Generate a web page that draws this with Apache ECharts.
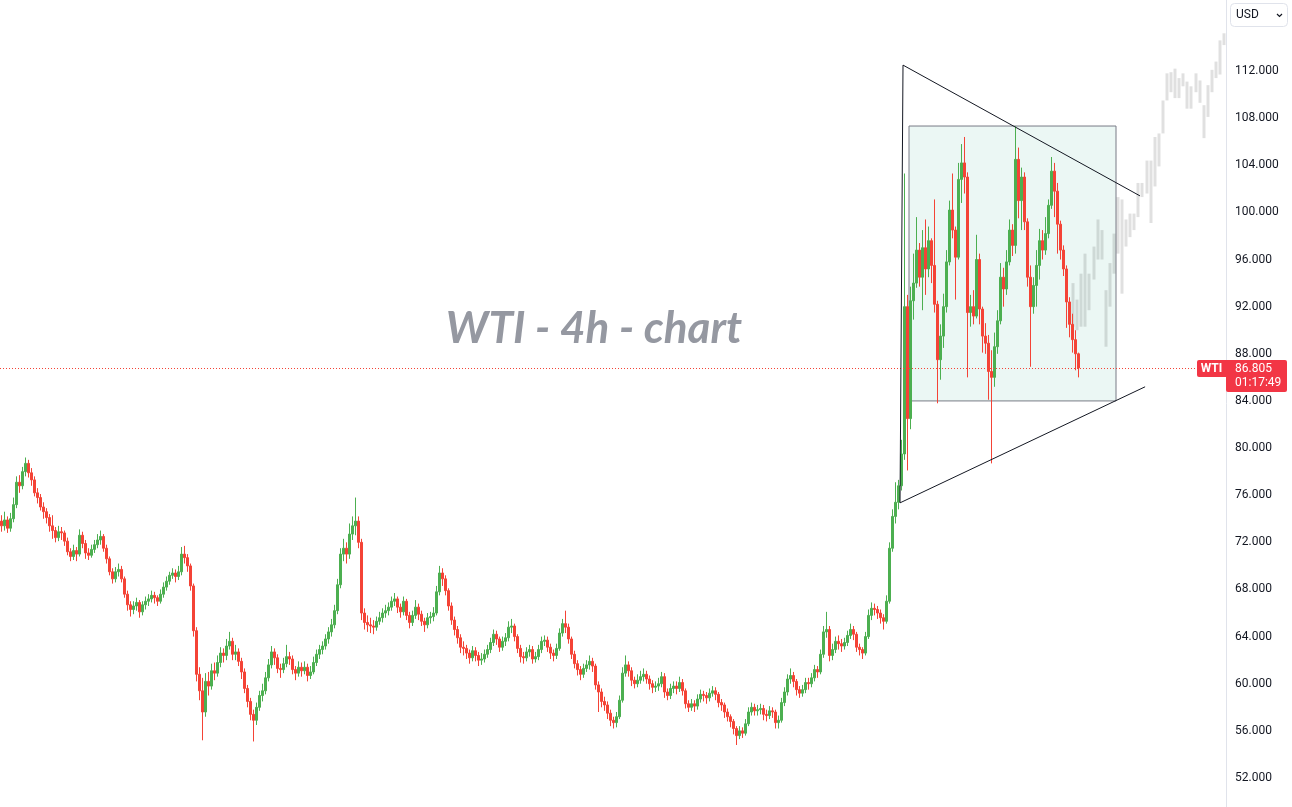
<!DOCTYPE html>
<html><head><meta charset="utf-8">
<script src="https://cdn.jsdelivr.net/npm/echarts@6/dist/echarts.min.js"></script>
<style>html,body{margin:0;padding:0;background:#fff}#c{width:1292px;height:807px}</style>
</head><body><div id="c"></div>
<script>
// each candle: [open, close, low, high] — WTI 4h
const ohlc = [
[73.8,73.4,72.9,74.3],[73.4,73.9,73.0,74.6],[73.9,73.2,72.8,74.2],[73.2,74.0,72.9,74.5],[74.0,75.2,73.7,75.8],
[75.2,77.1,74.9,77.6],[77.1,76.8,76.2,77.7],[76.8,78.0,76.5,78.4],[78.0,78.7,77.6,79.2],[78.7,77.9,77.5,79.0],
[77.9,77.3,76.8,78.3],[77.3,76.2,75.9,77.6],[76.2,75.8,75.3,76.6],[75.8,75.0,74.7,76.1],[75.0,74.6,74.0,75.4],
[74.6,74.1,73.6,74.9],[74.1,73.4,72.9,74.4],[73.4,73.0,72.3,74.3],[73.0,72.4,72.0,73.3],[72.4,72.9,72.1,73.4],
[72.9,72.8,72.2,73.3],[72.8,72.1,71.7,73.0],[72.1,71.2,70.9,72.4],[71.2,70.8,70.4,71.5],[70.8,71.3,70.5,71.8],
[71.3,71.0,70.4,71.6],[71.0,72.6,70.8,73.1],[72.6,71.9,71.5,72.9],[71.9,71.1,70.6,72.2],[71.1,70.9,70.5,71.5],
[70.9,71.4,70.7,71.8],[71.4,71.8,71.1,72.2],[71.8,72.2,71.5,72.7],[72.2,72.5,71.8,73.0],[72.5,71.5,71.2,72.7],
[71.5,70.6,70.2,71.8],[70.6,69.5,69.2,70.8],[69.5,68.9,68.5,69.8],[68.9,69.5,68.6,69.9],[69.5,69.7,69.1,70.2],
[69.7,68.9,68.6,70.0],[68.9,67.6,67.3,69.1],[67.6,66.7,66.2,67.9],[66.7,66.3,65.7,67.0],[66.3,66.6,65.9,67.0],
[66.6,66.9,66.2,67.3],[66.9,66.1,65.6,67.1],[66.1,66.7,65.8,67.0],[66.7,67.0,66.3,67.4],[67.0,67.2,66.6,67.6],
[67.2,67.5,66.9,67.9],[67.5,67.3,66.8,67.8],[67.3,67.0,66.6,67.5],[67.0,67.6,66.8,68.0],[67.6,68.2,67.3,68.6],
[68.2,68.7,67.9,69.1],[68.7,69.2,68.4,69.5],[69.2,69.4,68.9,69.8],[69.4,69.1,68.6,69.7],[69.1,69.5,68.8,70.0],
[69.5,71.0,69.2,71.6],[71.0,70.7,70.2,71.7],[70.7,70.0,69.5,71.0],[70.0,68.3,67.9,70.2],[68.3,64.5,64.0,68.5],
[64.5,60.8,60.2,64.8],[60.8,59.4,58.6,61.4],[59.4,57.6,55.2,60.5],[57.6,60.2,57.2,60.9],[60.2,59.8,59.0,61.0],
[59.8,61.1,59.5,61.7],[61.1,60.9,60.3,61.8],[60.9,61.8,60.6,62.4],[61.8,62.6,61.4,63.1],[62.6,62.4,61.8,63.0],
[62.4,63.2,62.0,63.8],[63.2,63.6,62.9,64.4],[63.6,62.5,62.0,63.9],[62.5,62.7,62.0,63.3],[62.7,61.9,61.5,63.0],
[61.9,61.0,60.4,62.2],[61.0,59.6,59.2,61.3],[59.6,58.5,58.0,59.9],[58.5,57.4,56.9,58.8],[57.4,56.9,55.1,57.8],
[56.9,58.0,56.5,58.4],[58.0,59.0,57.7,59.4],[59.0,59.4,58.5,60.0],[59.4,60.5,59.1,61.0],[60.5,61.6,60.2,62.1],
[61.6,62.7,61.3,63.2],[62.7,62.2,61.6,63.0],[62.2,61.3,60.9,62.5],[61.3,61.2,60.5,61.7],[61.2,61.7,60.9,62.2],
[61.7,62.3,61.4,63.3],[62.3,62.1,61.6,62.7],[62.1,61.2,60.8,62.4],[61.2,60.9,60.3,61.5],[60.9,61.4,60.6,61.9],
[61.4,61.1,60.6,61.8],[61.1,61.4,60.8,61.9],[61.4,60.7,60.2,61.7],[60.7,61.0,60.4,61.5],[61.0,61.8,60.8,62.3],
[61.8,62.5,61.5,62.9],[62.5,62.9,62.1,63.3],[62.9,63.2,62.5,63.6],[63.2,63.8,62.9,64.2],[63.8,64.4,63.4,64.8],
[64.4,65.0,64.0,65.5],[65.0,66.2,64.7,66.7],[66.2,68.4,65.9,68.9],[68.4,71.0,68.1,71.5],[71.0,71.5,70.4,72.3],
[71.5,71.0,70.2,72.0],[71.0,72.7,70.6,73.6],[72.7,73.4,72.2,74.2],[73.4,73.8,72.6,75.8],[73.8,72.0,71.5,74.2],
[72.0,66.0,65.4,72.3],[66.0,65.2,64.6,66.4],[65.2,65.0,64.4,65.8],[65.0,64.9,64.3,65.6],[64.9,64.8,64.2,65.4],
[64.8,65.3,64.5,65.7],[65.3,65.6,65.0,66.1],[65.6,66.0,65.2,66.4],[66.0,66.2,65.6,66.7],[66.2,66.5,65.8,66.9],
[66.5,67.0,66.2,67.4],[67.0,67.2,66.6,67.7],[67.2,66.5,66.0,67.4],[66.5,66.1,65.6,66.8],[66.1,67.0,65.8,67.4],
[67.0,65.8,65.4,67.2],[65.8,65.2,64.7,66.1],[65.2,65.8,64.9,66.2],[65.8,66.5,65.5,67.1],[66.5,65.9,65.4,66.8],
[65.9,65.3,64.9,66.2],[65.3,65.0,64.4,65.6],[65.0,65.6,64.7,66.0],[65.6,65.7,65.1,66.1],[65.7,66.0,65.3,66.5],
[66.0,67.8,65.8,68.3],[67.8,69.4,67.5,70.0],[69.4,68.9,68.3,69.8],[68.9,67.9,67.5,69.2],[67.9,66.6,66.2,68.1],
[66.6,65.4,65.0,66.9],[65.4,64.6,64.1,65.7],[64.6,63.9,63.4,64.9],[63.9,63.1,62.6,64.2],[63.1,63.0,62.4,63.6],
[63.0,62.6,62.1,63.3],[62.6,62.2,61.7,62.9],[62.2,62.8,61.9,63.2],[62.8,62.4,61.9,63.1],[62.4,62.0,61.5,62.7],
[62.0,62.1,61.6,62.6],[62.1,62.5,61.8,62.9],[62.5,62.9,62.2,63.3],[62.9,63.5,62.6,63.9],[63.5,64.2,63.2,64.6],
[64.2,63.8,63.3,64.5],[63.8,63.1,62.7,64.0],[63.1,63.6,62.8,64.0],[63.6,63.9,63.2,64.3],[63.9,64.8,63.6,65.3],
[64.8,64.9,64.3,65.5],[64.9,64.0,63.6,65.1],[64.0,63.0,62.6,64.2],[63.0,62.3,61.8,63.3],[62.3,62.2,61.7,62.7],
[62.2,62.7,61.9,63.1],[62.7,62.9,62.3,63.3],[62.9,62.1,61.7,63.2],[62.1,62.3,61.8,62.7],[62.3,62.9,62.0,63.3],
[62.9,63.6,62.6,64.0],[63.6,63.7,63.2,64.1],[63.7,63.1,62.7,64.0],[63.1,62.6,62.1,63.4],[62.6,62.4,61.9,62.9],
[62.4,63.0,62.1,63.4],[63.0,64.3,62.8,64.7],[64.3,65.1,64.0,65.5],[65.1,64.8,64.3,66.2],[64.8,63.8,63.4,65.1],
[63.8,62.5,62.1,64.0],[62.5,61.7,61.3,62.8],[61.7,61.2,60.7,62.0],[61.2,60.8,60.3,61.5],[60.8,61.3,60.5,61.7],
[61.3,61.6,61.0,62.0],[61.6,61.9,61.2,62.4],[61.9,61.5,61.0,62.2],[61.5,59.9,59.5,61.7],[59.9,59.3,57.6,60.2],
[59.3,58.5,58.0,59.6],[58.5,58.2,57.7,58.9],[58.2,57.5,57.0,58.5],[57.5,56.9,56.4,57.8],[56.9,56.7,56.2,57.2],
[56.7,57.2,56.3,57.6],[57.2,58.6,57.0,59.0],[58.6,60.9,58.4,61.4],[60.9,61.6,60.6,62.4],[61.6,61.1,60.6,61.9],
[61.1,60.3,59.8,61.4],[60.3,60.0,59.6,60.6],[60.0,60.3,59.7,60.8],[60.3,60.6,60.0,61.1],[60.6,60.8,60.2,61.3],
[60.8,60.4,60.0,61.1],[60.4,60.0,59.5,60.7],[60.0,59.7,59.2,60.3],[59.7,59.8,59.3,60.2],[59.8,60.0,59.4,60.5],
[60.0,60.6,59.7,61.0],[60.6,59.3,58.8,60.9],[59.3,59.0,58.6,59.6],[59.0,59.6,58.7,60.0],[59.6,59.8,59.2,60.2],
[59.8,59.6,59.1,60.2],[59.6,60.1,59.3,60.6],[60.1,59.4,59.0,60.4],[59.4,58.3,57.9,59.6],[58.3,58.0,57.6,58.6],
[58.0,58.3,57.7,58.7],[58.3,58.1,57.6,58.6],[58.1,58.7,57.8,59.1],[58.7,59.1,58.4,59.5],[59.1,59.0,58.5,59.4],
[59.0,58.8,58.3,59.3],[58.8,59.2,58.5,59.6],[59.2,59.4,58.9,59.8],[59.4,59.1,58.6,59.7],[59.1,58.4,58.0,59.3],
[58.4,58.2,57.7,58.7],[58.2,57.6,57.1,58.4],[57.6,57.2,56.8,57.9],[57.2,56.8,56.3,57.4],[56.8,56.2,55.7,57.0],
[56.2,55.6,54.8,56.4],[55.6,56.0,55.3,56.4],[56.0,55.8,55.4,56.3],[55.8,56.6,55.6,57.0],[56.6,57.6,56.4,58.0],
[57.6,58.0,57.3,58.4],[58.0,57.7,57.3,58.3],[57.7,57.8,57.3,58.2],[57.8,57.9,57.4,58.3],[57.9,57.4,56.9,58.2],
[57.4,57.3,56.8,57.8],[57.3,57.7,57.0,58.1],[57.7,57.6,57.1,58.0],[57.6,56.7,56.2,57.8],[56.7,56.9,56.2,57.3],
[56.9,58.4,56.7,58.8],[58.4,59.3,58.1,59.7],[59.3,60.4,59.0,60.8],[60.4,60.7,60.0,61.3],[60.7,60.2,59.7,61.0],
[60.2,59.5,59.0,60.4],[59.5,59.2,58.8,59.8],[59.2,59.5,58.9,59.9],[59.5,60.1,59.2,60.5],[60.1,60.0,59.5,60.5],
[60.0,60.5,59.7,60.9],[60.5,61.2,60.2,61.6],[61.2,61.0,60.5,61.5],[61.0,62.5,60.8,62.9],[62.5,64.4,62.2,64.9],
[64.4,64.6,63.9,66.1],[64.6,62.4,61.9,64.9],[62.4,62.9,62.0,63.4],[62.9,63.6,62.6,64.0],[63.6,63.4,62.9,64.1],
[63.4,63.2,62.7,63.8],[63.2,63.5,62.9,63.9],[63.5,64.1,63.2,64.5],[64.1,64.6,63.8,65.1],[64.6,64.2,63.7,64.9],
[64.2,63.1,62.7,64.4],[63.1,62.9,62.4,63.4],[62.9,62.6,62.1,63.1],[62.6,64.0,62.4,64.4],[64.0,65.8,63.8,66.3],
[65.8,66.4,65.4,66.9],[66.4,66.3,65.8,66.8],[66.3,66.0,65.5,66.6],[66.0,65.6,65.1,66.3],[65.6,65.3,64.6,65.9],
[65.3,67.0,65.1,67.5],[67.0,71.5,66.8,72.0],[71.5,74.2,71.2,74.8],[74.2,75.4,73.6,77.1],[75.4,76.8,74.8,77.3],
[76.8,79.5,76.4,80.7],[79.5,92.0,79.0,103.3],[92.0,82.5,78.1,93.0],[82.5,92.5,81.6,93.7],[92.5,94.0,90.9,96.5],
[94.0,96.8,93.6,99.6],[96.8,94.5,93.7,97.4],[94.5,97.0,91.7,98.5],[97.0,95.2,93.0,99.4],[95.2,97.6,94.5,98.8],
[97.6,95.5,94.0,97.8],[95.5,92.2,91.5,101.1],[92.2,87.5,83.8,92.5],[87.5,89.5,85.8,90.5],[89.5,92.0,88.5,93.1],
[92.0,95.8,91.5,96.8],[95.8,100.2,95.5,101.0],[100.2,98.5,97.8,103.3],[98.5,96.2,92.6,98.8],[96.2,102.8,96.0,104.2],
[102.8,104.2,100.8,105.8],[104.2,103.0,101.6,106.4],[103.0,91.5,86.0,103.4],[91.5,92.0,90.3,93.0],[92.0,91.2,90.5,93.4],
[91.2,96.0,91.0,98.1],[96.0,91.8,90.5,96.5],[91.8,89.5,88.1,92.0],[89.5,88.9,88.0,90.6],[88.9,86.5,84.1,89.6],
[86.5,86.0,78.7,88.3],[86.0,88.6,85.2,89.8],[88.6,90.8,88.0,91.7],[90.8,94.5,90.5,95.7],[94.5,93.5,92.0,95.3],
[93.5,95.8,93.0,96.8],[95.8,98.5,95.5,99.4],[98.5,97.2,96.3,99.0],[97.2,104.5,96.5,107.3],[104.5,101.0,99.5,105.5],
[101.0,103.0,98.5,103.8],[103.0,99.2,98.5,103.4],[99.2,94.5,93.7,99.5],[94.5,92.0,86.9,95.5],[92.0,93.8,91.4,94.5],
[93.8,95.5,92.0,96.8],[95.5,97.6,94.3,98.6],[97.6,96.8,96.0,98.5],[96.8,98.2,96.4,99.6],[98.2,100.6,97.8,101.1],
[100.6,103.5,100.3,104.7],[103.5,101.8,99.6,104.2],[101.8,99.0,96.5,102.5],[99.0,96.8,96.0,99.3],[96.8,95.2,94.6,97.2],
[95.2,92.4,90.2,95.5],[92.4,90.5,89.4,92.8],[90.5,89.2,88.1,91.4],[89.2,88.0,86.6,90.0],[88.0,86.805,86.0,88.1]
];
// projected (ghost) bars: low / high
const ghostLow  = [90.3,90.0,90.3,90.3,91.7,94.3,96.0,96.0,88.6,92.0,94.8,96.5,93.1,97.1,97.9,98.5,99.6,101.3,101.6,99.1,
                   102.2,103.9,106.7,109.5,110.2,109.7,109.7,110.7,108.8,108.8,110.2,109.3,106.3,108.1,110.2,111.4,111.7,114.2];
const ghostHigh = [94.0,92.6,94.8,96.5,94.8,97.1,99.4,98.5,93.4,95.7,98.2,101.3,101.1,99.4,99.9,99.9,102.5,102.5,104.4,104.4,
                   106.4,106.7,109.5,111.8,111.9,112.2,111.4,111.8,111.1,110.7,111.8,111.2,109.1,110.8,112.1,112.8,114.6,115.2];
const lastPrice = 86.805;
const countdown = '01:17:49';
const symbol = 'WTI';
const titleText = 'WTI - 4h - chart';
const yTicks = [52,56,60,64,68,72,76,80,84,88,92,96,100,104,108,112];
// drawings in (bar index, price)
const triUpper = [[300.5,112.5],[379.5,101.4]];
const triLower = [[299.5,75.35],[381.2,85.2]];
const triSide  = [[300.5,112.5],[299.5,75.35]];
const rangeBox = [[302.5,107.33],[371.5,84.0]];
const ghostStart = 357.2, ghostStep = 1.36;

const chart = echarts.init(document.getElementById('c'), null, {renderer:'canvas'});
const candleData = ohlc.map((r,i)=>[i, r[0], r[1], r[2], r[3]]);
const ghostData = ghostLow.map((lo,j)=>[ghostStart + j*ghostStep, lo, ghostHigh[j], lo, ghostHigh[j]]);
const lineStyle = {color:'#131722', width:1};
const lineSeries = (d)=>({type:'line', data:d, symbol:'none', lineStyle, z:5, silent:true, animation:false});

chart.setOption({
  animation:false,
  backgroundColor:'#ffffff',
  grid:{left:0, right:66, top:0, bottom:0},
  xAxis:{type:'value', min:-0.5, max:-0.5 + 1226/3, show:false},
  yAxis:{type:'value', position:'right', min:49.539, max:118.025,
    axisLine:{show:true, onZero:false, lineStyle:{color:'#e0e3eb', width:1}},
    axisTick:{show:false}, splitLine:{show:false},
    axisLabel:{margin:9, color:'#131722', fontSize:12, fontFamily:'Roboto', customValues:yTicks,
      formatter:(v)=> v.toFixed(3)}
  },
  series:[
    {type:'candlestick', name:'ghost', data:ghostData, encode:{x:0, y:[1,2,3,4]}, barWidth:3.5, z:1,
     itemStyle:{color:'rgba(0,0,0,0.12)', color0:'rgba(0,0,0,0.12)', borderColor:'rgba(0,0,0,0.0)', borderColor0:'rgba(0,0,0,0.0)', borderWidth:0},
     markArea:{silent:true, itemStyle:{color:'rgba(0,150,110,0.08)', borderColor:'#787b86', borderWidth:1},
       data:[[{coord:rangeBox[0]},{coord:rangeBox[1]}]]}
    },
    {type:'candlestick', name:'WTI', data:candleData, encode:{x:0, y:[1,2,3,4]}, barWidth:2, z:3,
     itemStyle:{color:'#4caf50', color0:'#f44336', borderColor:'#4caf50', borderColor0:'#f44336', borderWidth:1},
     markLine:{silent:true, symbol:'none', label:{show:false},
       lineStyle:{color:'#f44336', type:[1,2], width:1}, data:[{yAxis:lastPrice}]}
    },
    lineSeries(triUpper), lineSeries(triLower), lineSeries(triSide)
  ]
});

// labels attached through the chart's own scale
const py = Math.round(chart.convertToPixel({gridIndex:0}, [0, lastPrice])[1]);
chart.setOption({graphic:[
  {type:'text', x:594, y:329, style:{text:titleText, font:'italic bold 44px Lato', fill:'#9598a1', align:'center', verticalAlign:'middle'}, z:10},
  {type:'rect', shape:{x:1197, y:py-8, width:29, height:17, r:[2,0,0,2]}, style:{fill:'#f23645'}, z:10},
  {type:'text', x:1211.5, y:py+0.5, style:{text:symbol, font:'bold 12px Roboto', fill:'#fff', align:'center', verticalAlign:'middle'}, z:11},
  {type:'rect', shape:{x:1226, y:py-8, width:61, height:32, r:[0,2,2,2]}, style:{fill:'#f23645'}, z:10},
  {type:'text', x:1235, y:py+0.5, style:{text:lastPrice.toFixed(3), font:'12px Roboto', fill:'#fff', verticalAlign:'middle'}, z:11},
  {type:'text', x:1235, y:py+14.5, style:{text:countdown, font:'12px Roboto', fill:'#fff', verticalAlign:'middle'}, z:11},
  {type:'rect', shape:{x:1230.5, y:3.5, width:57, height:23, r:4}, style:{fill:'#fff', stroke:'#e0e3eb', lineWidth:1}, z:10},
  {type:'text', x:1236, y:15, style:{text:'USD', font:'12px Roboto', fill:'#131722', verticalAlign:'middle'}, z:11},
  {type:'polyline', shape:{points:[[1277,14],[1279.5,16.5],[1282,14]]}, style:{stroke:'#131722', lineWidth:1.2, fill:null}, z:11}
]});
</script></body></html>
